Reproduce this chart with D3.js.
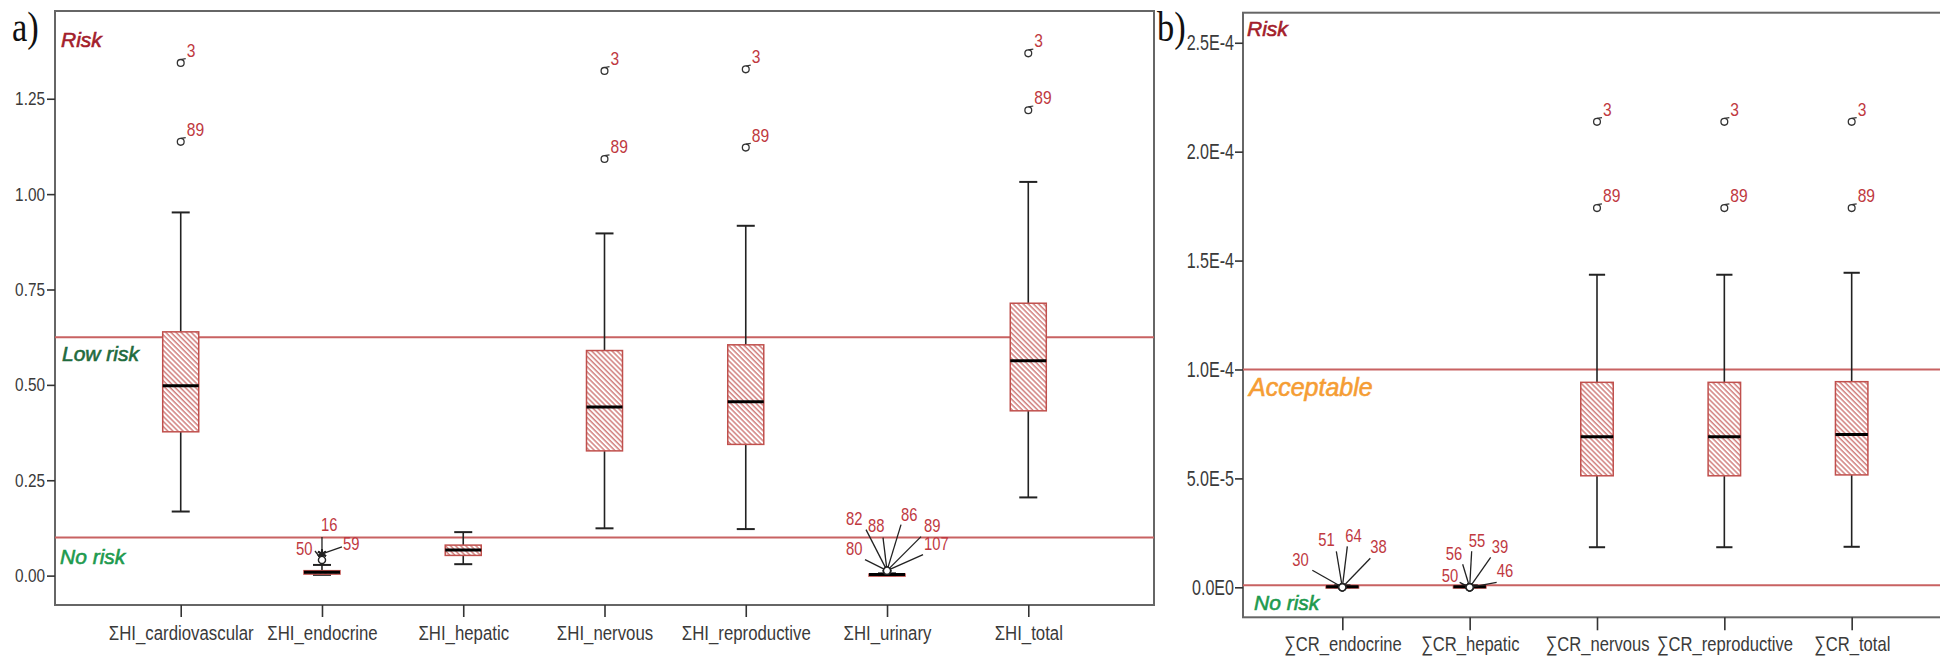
<!DOCTYPE html>
<html>
<head>
<meta charset="utf-8">
<script src="https://cdn.jsdelivr.net/npm/d3@7"></script>
<style>
	body { margin: 0; background: #fff; }
	text { font-family: "Liberation Sans", Arial, sans-serif; }
</style>
</head>
<body>
<svg id="chart" width="1940" height="659"></svg>
<script>
// ---- panel a : hazard index
const catsA = ["ΣHI_cardiovascular", "ΣHI_endocrine", "ΣHI_hepatic", "ΣHI_nervous", "ΣHI_reproductive", "ΣHI_urinary", "ΣHI_total"];
const loA  = [0.168, 0.002, 0.030, 0.124, 0.122, 0.001, 0.205];
const q1A  = [0.377, 0.004, 0.053, 0.327, 0.344, 0.002, 0.432];
const medA = [0.498, 0.009, 0.067, 0.442, 0.456, 0.003, 0.563];
const q3A  = [0.639, 0.013, 0.080, 0.590, 0.605, 0.004, 0.714];
const hiA  = [0.952, 0.028, 0.114, 0.897, 0.917, 0.006, 1.032];
const outCatA = [0, 0, 3, 3, 4, 4, 6, 6];
const outValA = [1.344, 1.137, 1.323, 1.092, 1.327, 1.122, 1.369, 1.220];
const outIdA  = ["3", "89", "3", "89", "3", "89", "3", "89"];
const fanCatA  = [1, 1, 1, 5, 5, 5, 5, 5, 5];
const fanValA  = [0.057, 0.057, 0.041, 0.013, 0.013, 0.013, 0.013, 0.013, 0.013];
const fanIdA   = ["16", "59", "50", "82", "88", "86", "89", "80", "107"];
const fanTypeA = ["star", "star", "circle", "circle", "circle", "circle", "circle", "circle", "circle"];
const ticksA = [0, 0.25, 0.5, 0.75, 1.0, 1.25];
const refA = [0.625, 0.1];

// ---- panel b : carcinogenic risk
const catsB = ["∑CR_endocrine", "∑CR_hepatic", "∑CR_nervous", "∑CR_reproductive", "∑CR_total"];
const loB  = [0, 0, 1.84e-5, 1.84e-5, 1.86e-5];
const q1B  = [0.1e-6, 0.1e-6, 5.12e-5, 5.12e-5, 5.16e-5];
const medB = [0.3e-6, 0.3e-6, 6.91e-5, 6.91e-5, 7.02e-5];
const q3B  = [0.6e-6, 0.6e-6, 9.41e-5, 9.41e-5, 9.44e-5];
const hiB  = [0.9e-6, 0.9e-6, 1.435e-4, 1.435e-4, 1.444e-4];
const outCatB = [2, 2, 3, 3, 4, 4];
const outValB = [2.137e-4, 1.741e-4, 2.137e-4, 1.741e-4, 2.137e-4, 1.741e-4];
const outIdB  = ["3", "89", "3", "89", "3", "89"];
const fanCatB  = [0, 0, 0, 0, 1, 1, 1, 1, 1];
const fanValB  = [0, 0, 0, 0, 0, 0, 0, 0, 0];
const fanIdB   = ["30", "51", "64", "38", "56", "55", "39", "50", "46"];
const fanTypeB = ["circle", "circle", "circle", "circle", "circle", "circle", "circle", "circle", "circle"];
const ticksB = [0, 5e-5, 1e-4, 1.5e-4, 2e-4, 2.5e-4];
const refB = [1e-4, 1e-6];

// label placement for the fanned outlier ids: [dx, dy, leader dx, leader dy]
const fanPosA = [[-1, -23, 0, -17], [21, -4, 20, -7], [-26, -5, -7, -9],
	[-41, -46, -21, -41], [-19, -39, -4, -33], [14, -50, 14, -46],
	[37, -39, 34, -34], [-41, -16, -22, -11], [37, -21, 36, -16]];
const fanPosB = [[-50, -21, -30, -17], [-24, -41, -6, -36], [3, -45, 5, -41], [28, -34, 28, -29],
	[-24, -27, -7, -23], [-1, -40, 2, -36], [22, -34, 21, -30], [-28, -5, -10, -5], [27, -10, 27, -5]];

const red = "#c0504d";
const idRed = "#c0393f";

const svg = d3.select("#chart");
const defs = svg.append("defs");
defs.append("pattern")
	.attr("id", "hatch")
	.attr("patternUnits", "userSpaceOnUse")
	.attr("width", 3.6)
	.attr("height", 3.6)
	.attr("patternTransform", "rotate(-45)")
	.append("line")
	.attr("x1", 1).attr("x2", 1)
	.attr("y1", 0).attr("y2", 3.6)
	.style("stroke", red)
	.style("stroke-width", 1.1);

// no narrow face installed: squeeze the glyphs instead
function narrow(sel, k) {
	sel.each(function () {
		const w = this.getComputedTextLength();
		d3.select(this).attr("textLength", w * k).attr("lengthAdjust", "spacingAndGlyphs");
	});
}

function drawPanel(p) {
	const g = svg.append("g");
	const x = d3.scalePoint().domain(p.cats).range([p.left, p.right]).padding(p.pad);
	const y = d3.scaleLinear().domain(p.yDomain).range([p.bottom, p.top]);
	const bw = x.step() * 0.255;

	// frame
	g.append("rect")
		.attr("x", p.left).attr("y", p.top)
		.attr("width", p.right - p.left).attr("height", p.bottom - p.top)
		.style("fill", "none").style("stroke", "#666").style("stroke-width", 2);

	// reference lines
	g.selectAll("line.ref")
		.data(p.refs)
		.enter().append("line")
		.attr("class", "ref")
		.attr("x1", p.left).attr("x2", p.right)
		.attr("y1", y).attr("y2", y)
		.style("stroke", "#c86262").style("stroke-width", 2);

	// axes
	let yAxis = d3.axisLeft(y).tickValues(p.ticks).tickSize(8).tickPadding(p.yPad).tickFormat(p.fmt);
	g.append("g")
		.attr("transform", "translate(" + p.left + ",0)")
		.call(yAxis)
		.call(a => a.select(".domain").remove())
		.call(a => a.selectAll("line").style("stroke", "#333").style("stroke-width", 1.6))
		.call(a => a.selectAll("text").style("font-size", p.tickFont + "px").style("fill", "#3a3a3a")
			.style("font-family", null).call(narrow, p.tickK));

	let xAxis = d3.axisBottom(x).tickSize(p.xTick).tickPadding(p.xPad);
	g.append("g")
		.attr("transform", "translate(0," + p.bottom + ")")
		.call(xAxis)
		.call(a => a.select(".domain").remove())
		.call(a => a.selectAll("line").style("stroke", "#333").style("stroke-width", 1.6))
		.call(a => a.selectAll("text").style("font-size", p.xFont + "px").style("fill", "#3a3a3a")
			.style("font-family", null).call(narrow, p.xK));

	// boxes
	const rows = p.cats.map((c, i) => ({c: c, lo: p.lo[i], q1: p.q1[i], med: p.med[i], q3: p.q3[i], hi: p.hi[i]}));
	const box = g.selectAll("g.box").data(rows).enter().append("g").attr("class", "box");
	box.append("line")
		.attr("x1", d => x(d.c)).attr("x2", d => x(d.c))
		.attr("y1", d => y(d.hi)).attr("y2", d => y(d.lo))
		.style("stroke", "#222").style("stroke-width", 1.6);
	box.selectAll("line.cap")
		.data(d => [{c: d.c, v: d.hi}, {c: d.c, v: d.lo}])
		.enter().append("line")
		.attr("class", "cap")
		.attr("x1", d => x(d.c) - bw / 4).attr("x2", d => x(d.c) + bw / 4)
		.attr("y1", d => y(d.v)).attr("y2", d => y(d.v))
		.style("stroke", "#222").style("stroke-width", 2);
	box.append("rect")
		.attr("x", d => x(d.c) - bw / 2).attr("width", bw)
		.attr("y", d => y(d.q3))
		.attr("height", d => Math.max(2, y(d.q1) - y(d.q3)))
		.style("fill", "#fff");
	box.append("rect")
		.attr("x", d => x(d.c) - bw / 2).attr("width", bw)
		.attr("y", d => y(d.q3))
		.attr("height", d => Math.max(2, y(d.q1) - y(d.q3)))
		.style("fill", "url(#hatch)")
		.style("stroke", red).style("stroke-width", 1.5);
	box.append("line")
		.attr("x1", d => x(d.c) - bw / 2).attr("x2", d => x(d.c) + bw / 2)
		.attr("y1", d => y(d.med)).attr("y2", d => y(d.med))
		.style("stroke", "#000").style("stroke-width", 3);

	// simple outliers, id at upper right
	const outs = p.outCat.map((c, i) => ({c: p.cats[c], v: p.outVal[i], id: p.outId[i]}));
	const og = g.selectAll("g.out").data(outs).enter().append("g").attr("class", "out");
	og.append("circle")
		.attr("cx", d => x(d.c)).attr("cy", d => y(d.v)).attr("r", 3.4)
		.style("fill", "none").style("stroke", "#333").style("stroke-width", 1.3);
	og.append("line")
		.attr("x1", d => x(d.c)).attr("x2", d => x(d.c) + 5)
		.attr("y1", d => y(d.v) - 3.4).attr("y2", d => y(d.v) - 4.2)
		.style("stroke", "#333").style("stroke-width", 1.2);
	og.append("text")
		.attr("x", d => x(d.c) + 6).attr("y", d => y(d.v) - 6)
		.style("font-size", "19px").style("fill", idRed)
		.text(d => d.id)
		.call(narrow, 0.82);

	// crowded outliers, ids fanned out with leader lines
	const fans = p.fanCat.map((c, i) => ({c: p.cats[c], v: p.fanVal[i], id: p.fanId[i], t: p.fanType[i], pos: p.fanPos[i]}));
	const fg = g.selectAll("g.fan").data(fans).enter().append("g").attr("class", "fan");
	fg.append("line")
		.attr("x1", d => x(d.c) + d.pos[2]).attr("y1", d => y(d.v) + d.pos[3])
		.attr("x2", d => x(d.c)).attr("y2", d => y(d.v))
		.style("stroke", "#222").style("stroke-width", 1.3);
	fg.append("path")
		.attr("transform", d => "translate(" + x(d.c) + "," + y(d.v) + ")")
		.attr("d", d => d.t === "star" ? d3.symbol(d3.symbolAsterisk, 60)() : d3.symbol(d3.symbolCircle, 40)())
		.style("fill", d => d.t === "star" ? "none" : "#fff")
		.style("stroke", "#222").style("stroke-width", d => d.t === "star" ? 2 : 1.4);
	fg.append("text")
		.attr("x", d => x(d.c) + d.pos[0]).attr("y", d => y(d.v) + d.pos[1])
		.style("font-size", "18.5px").style("fill", idRed)
		.text(d => d.id)
		.call(narrow, 0.8);

	// zone labels
	g.selectAll("text.zone")
		.data(p.zones)
		.enter().append("text")
		.attr("class", "zone")
		.attr("x", d => p.left + d.dx)
		.attr("y", d => d.v === null ? p.top + d.dy : y(d.v) + d.dy)
		.style("font-style", "italic")
		.style("font-size", d => d.size + "px")
		.style("fill", d => d.color)
		.style("stroke", d => d.color)
		.style("stroke-width", 0.6)
		.text(d => d.text);

	// panel letter
	svg.append("text")
		.attr("x", p.letterX).attr("y", 41)
		.style("font-family", "'Liberation Serif', 'Times New Roman', serif")
		.style("font-size", "42px")
		.style("fill", "#111")
		.text(p.letter)
		.call(narrow, 0.82);

	return {x, y};
}

drawPanel({
	cats: catsA, lo: loA, q1: q1A, med: medA, q3: q3A, hi: hiA,
	outCat: outCatA, outVal: outValA, outId: outIdA,
	fanCat: fanCatA, fanVal: fanValA, fanId: fanIdA, fanType: fanTypeA, fanPos: fanPosA,
	ticks: ticksA, refs: refA,
	fmt: d3.format(".2f"),
	left: 55, right: 1154, top: 11, bottom: 605, pad: 0.89,
	yDomain: [-0.077, 1.48], yPad: 2, tickFont: 18.5, tickK: 0.83,
	xTick: 12, xPad: 9, xFont: 20, xK: 0.84,
	zones: [
		{text: "Risk", v: null, dy: 36, dx: 6, size: 21, color: "#a31d2b"},
		{text: "Low risk", v: refA[0], dy: 24, dx: 7, size: 21, color: "#1f6b3d"},
		{text: "No risk", v: refA[1], dy: 27, dx: 5, size: 21, color: "#1d9a4e"}
	],
	letter: "a)", letterX: 12
});

drawPanel({
	cats: catsB, lo: loB, q1: q1B, med: medB, q3: q3B, hi: hiB,
	outCat: outCatB, outVal: outValB, outId: outIdB,
	fanCat: fanCatB, fanVal: fanValB, fanId: fanIdB, fanType: fanTypeB, fanPos: fanPosB,
	ticks: ticksB, refs: refB,
	fmt: d => d === 0 ? "0.0E0" : d3.format(".1e")(d).toUpperCase(),
	left: 1243, right: 1951, top: 12.7, bottom: 617.3, pad: 0.78,
	yDomain: [-1.377e-5, 2.638e-4], yPad: 1, tickFont: 22, tickK: 0.73,
	xTick: 13, xPad: 6, xFont: 21, xK: 0.79,
	zones: [
		{text: "Risk", v: null, dy: 23, dx: 4, size: 21, color: "#a31d2b"},
		{text: "Acceptable", v: refB[0], dy: 27, dx: 6, size: 25, color: "#f59d34"},
		{text: "No risk", v: refB[1], dy: 25, dx: 11, size: 21, color: "#1d9a4e"}
	],
	letter: "b)", letterX: 1157
});
</script>
</body>
</html>
